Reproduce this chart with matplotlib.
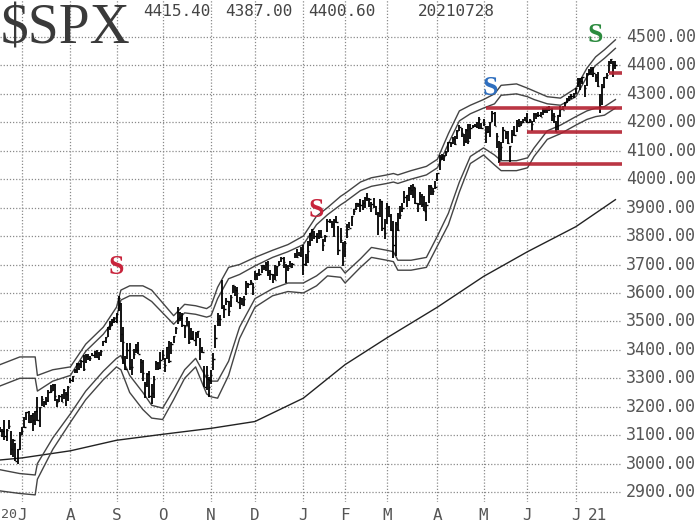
import numpy as np
import pandas as pd
import matplotlib
matplotlib.use("Agg")
import matplotlib.pyplot as plt

# ---------------- data ----------------
holidays = ["2020-07-03", "2020-09-07", "2020-11-26", "2020-12-25", "2021-01-01",
            "2021-01-18", "2021-02-15", "2021-04-02", "2021-05-31", "2021-07-05"]

highs = [3153,3130,3120,3155,3120,3154,3115,3086,3073,3053,3112,
         3128,3165,3183,3184,3171,3179,3186,3235,3200,3238,3220,3233,3259,3277,3280,3280,3228,3242,3243,3264,3250,3272,
         3302,3307,3331,3352,3352,3363,3381,3387,3387,3378,3388,3395,3399,3391,3399,3432,3444,3481,3501,3509,3514,
         3529,3588,3564,3479,3379,3424,3425,3368,3403,3420,3428,3369,3363,3286,3320,3324,3279,3307,3361,3357,3393,
         3398,3370,3409,3432,3427,3448,3482,3550,3534,3528,3489,3515,3502,3476,3465,3461,3466,3441,3409,3342,3342,3305,
         3330,3390,3486,3529,3522,3646,3557,3582,3570,3593,3628,3624,3620,3586,3582,3589,3643,3635,3644,3634,
         3678,3670,3683,3700,3697,3708,3713,3682,3665,3697,3695,3711,3725,3726,3702,3698,3712,3704,3740,3756,3744,3760,
         3770,3738,3783,3811,3826,3818,3811,3821,3823,3789,3804,3859,3861,3852,3859,3871,3836,3830,3778,
         3784,3843,3848,3872,3895,3916,3918,3932,3926,3937,3950,3933,3921,3935,3904,3883,3929,3925,3861,
         3915,3906,3879,3853,3851,3882,3904,3918,3960,3944,3971,3981,3984,3970,3918,3955,3949,3942,3919,3978,3981,3968,3994,
         4021,4084,4087,4084,4098,4130,4131,4148,4151,4174,4192,4180,4160,4175,4195,4194,4191,4193,4201,4219,4199,
         4210,4187,4187,4202,4238,4236,4164,4134,4131,4183,4169,4170,4117,4172,4188,4209,4213,4203,4213,4219,
         4234,4213,4204,4233,4232,4237,4237,4250,4249,4255,4257,4252,4232,4204,4226,4256,4256,4272,4287,4292,4300,4302,
         4321,4355,4356,4361,4331,4372,4386,4393,4394,4370,4376,4300,4336,4359,4372,4415,4422,4415,4415.4]

lows = [3076,3110,3093,3083,3079,3123,3032,3024,3008,2999,3047,
        3101,3124,3155,3142,3142,3116,3136,3149,3127,3201,3199,3205,3215,3248,3254,3221,3198,3215,3216,3228,3204,3220,
        3284,3287,3318,3317,3328,3335,3326,3355,3363,3361,3380,3370,3370,3366,3379,3413,3423,3444,3468,3485,3494,
        3494,3535,3427,3349,3329,3367,3329,3311,3369,3389,3384,3317,3292,3229,3271,3232,3210,3229,3328,3328,3332,
        3364,3323,3367,3354,3384,3425,3456,3492,3500,3480,3440,3483,3420,3435,3433,3415,3440,3364,3388,3268,3259,3234,
        3279,3328,3405,3485,3484,3544,3511,3557,3519,3552,3601,3589,3567,3544,3556,3553,3594,3617,3629,3594,
        3646,3645,3660,3670,3679,3678,3658,3646,3634,3645,3659,3696,3710,3688,3636,3676,3690,3689,3724,3723,3730,3726,
        3663,3695,3705,3765,3783,3789,3777,3791,3792,3749,3780,3816,3846,3830,3797,3847,3732,3777,3694,
        3725,3792,3827,3836,3874,3892,3902,3885,3891,3900,3923,3901,3885,3898,3875,3805,3866,3818,3790,
        3842,3867,3818,3723,3730,3819,3859,3885,3915,3903,3924,3944,3935,3914,3885,3910,3902,3889,3853,3917,3943,3945,3965,
        3992,4034,4068,4063,4083,4096,4114,4124,4120,4140,4171,4150,4118,4126,4123,4142,4181,4182,4181,4177,4175,
        4188,4128,4163,4148,4201,4188,4111,4057,4069,4126,4143,4125,4061,4127,4151,4167,4183,4188,4197,4203,
        4198,4198,4168,4200,4213,4219,4219,4225,4234,4234,4239,4203,4196,4165,4174,4217,4242,4255,4267,4275,4283,4287,
        4301,4323,4313,4336,4290,4329,4365,4368,4360,4340,4323,4233,4262,4320,4351,4375,4405,4360,4387]

closes = [3125,3113,3115,3098,3118,3131,3050,3084,3009,3053,3100,
          3116,3130,3180,3145,3170,3152,3185,3155,3198,3227,3216,3225,3252,3257,3276,3236,3216,3239,3218,3258,3246,3271,
          3295,3307,3328,3349,3351,3360,3334,3380,3373,3373,3382,3390,3375,3385,3397,3431,3444,3479,3485,3508,3500,
          3527,3581,3455,3427,3332,3399,3339,3341,3384,3401,3386,3357,3320,3281,3316,3237,3247,3298,3352,3336,3363,
          3381,3348,3409,3361,3419,3447,3477,3534,3512,3489,3483,3484,3427,3443,3436,3454,3465,3401,3391,3271,3310,3270,
          3310,3369,3443,3510,3509,3550,3545,3573,3537,3585,3627,3610,3568,3582,3558,3578,3635,3630,3638,3622,
          3662,3669,3667,3699,3692,3702,3673,3668,3663,3647,3695,3701,3722,3709,3695,3687,3690,3703,3735,3727,3732,3756,
          3701,3727,3748,3804,3825,3800,3801,3810,3795,3768,3799,3852,3853,3841,3855,3850,3751,3787,3714,
          3774,3826,3830,3872,3887,3916,3911,3910,3916,3935,3933,3931,3914,3907,3877,3881,3925,3829,3811,
          3902,3870,3820,3769,3842,3821,3875,3899,3939,3943,3969,3963,3974,3916,3913,3941,3911,3889,3910,3975,3971,3959,3973,
          4020,4078,4074,4080,4097,4129,4128,4142,4125,4170,4185,4163,4135,4173,4135,4180,4188,4187,4183,4211,4181,
          4193,4165,4168,4202,4233,4188,4152,4063,4113,4174,4163,4128,4116,4159,4156,4197,4188,4196,4201,4204,
          4202,4208,4193,4230,4227,4227,4220,4239,4247,4255,4247,4224,4222,4167,4225,4246,4242,4267,4281,4291,4292,4298,
          4320,4352,4344,4358,4321,4370,4385,4369,4374,4360,4327,4259,4323,4359,4368,4412,4422,4402,4400.6]

# bands at selected trading-day positions
band_idx = [0, 10, 17, 18, 25, 33, 40, 48, 54, 56, 60, 66, 70, 75, 80, 85, 90, 95, 97, 100,
            105, 110, 117, 125, 132, 139, 145, 150, 156, 158, 165, 170, 177, 180, 182, 188, 195, 200,
            205, 210, 215, 221, 226, 229, 236, 241, 244, 250, 256, 263, 268, 272, 276, 281]
upper_outer = [3345, 3375, 3375, 3310, 3330, 3340, 3420, 3480, 3550, 3610, 3625, 3625, 3610, 3565, 3520, 3560, 3555, 3545, 3555, 3620,
               3690, 3700, 3725, 3750, 3770, 3800, 3870, 3900, 3940, 3950, 3990, 4005, 4015, 4020, 4015, 4030, 4045, 4070,
               4160, 4240, 4260, 4280, 4300, 4330, 4335, 4320, 4310, 4290, 4285, 4320, 4390, 4430, 4455, 4490]
upper_inner = [3270, 3300, 3300, 3255, 3290, 3310, 3395, 3455, 3515, 3575, 3590, 3590, 3570, 3530, 3490, 3530, 3525, 3515, 3520, 3580,
               3650, 3665, 3695, 3725, 3745, 3770, 3840, 3875, 3910, 3920, 3960, 3975, 3985, 3990, 3985, 4000, 4015, 4040,
               4125, 4205, 4230, 4250, 4265, 4295, 4300, 4290, 4280, 4265, 4260, 4290, 4360, 4400, 4425, 4460]
lower_inner = [2980, 2965, 2960, 3000, 3090, 3175, 3255, 3325, 3370, 3380, 3310, 3250, 3205, 3195, 3260, 3330, 3370, 3300, 3290, 3290,
               3360, 3480, 3580, 3615, 3635, 3635, 3660, 3690, 3690, 3670, 3720, 3760, 3750, 3745, 3715, 3715, 3725, 3800,
               3880, 3990, 4080, 4110, 4085, 4065, 4065, 4075, 4110, 4170, 4190, 4220, 4240, 4250, 4255, 4280]
lower_outer = [2905, 2895, 2890, 2945, 3050, 3145, 3225, 3295, 3340, 3330, 3250, 3190, 3160, 3155, 3225, 3300, 3340, 3245, 3235, 3230,
               3310, 3440, 3550, 3590, 3605, 3600, 3625, 3660, 3655, 3635, 3690, 3725, 3715, 3710, 3680, 3680, 3690, 3765,
               3840, 3955, 4055, 4085, 4050, 4030, 4030, 4040, 4080, 4140, 4160, 4190, 4210, 4220, 4225, 4250]

ma_idx = [0, 11, 33, 54, 75, 97, 117, 139, 158, 177, 200, 221, 241, 263, 281]
ma_200 = [3012, 3020, 3045, 3082, 3103, 3124, 3148, 3230, 3348, 3442, 3550, 3658, 3745, 3833, 3928]

support_levels = [4250, 4165, 4055, 4375]
support_start = ["2021-05-04", "2021-06-01", "2021-05-12", "2021-07-23"]

sell_signals = [("2020-09-01", 3690, "#c8243c"), ("2021-01-12", 3890, "#c8243c"),
                ("2021-05-06", 4320, "#2f6fbf"), ("2021-07-15", 4505, "#2b8a3e")]

month_labels = ["J", "A", "S", "O", "N", "D", "J", "F", "M", "A", "M", "J", "J"]
header_values = ["4415.40", "4387.00", "4400.60", "20210728"]
y_ticks = list(range(2900, 4501, 100))

# ---------------- layout ----------------
dates = pd.bdate_range("2020-06-16", "2021-07-28")
dates = dates[~dates.isin(pd.to_datetime(holidays))]
n = len(highs)
dates = dates[:n]
idx = np.arange(n)

W, H = 700, 523
fig = plt.figure(figsize=(W / 100, H / 100), dpi=100)
ax = fig.add_axes([0, 1 - 502 / H, 622 / W, 502 / H])
ax.set_xlim(0.99, 284.0)
ax.set_ylim(2865, 4630)
for s in ax.spines.values():
    s.set_visible(False)
ax.set_xticks([])
ax.set_yticks([])

# grid
grid_kw = dict(color="#8a8a8a", lw=0.9, ls=(0, (1, 1.5)), zorder=0)
for yv in y_ticks:
    ax.axhline(yv, **grid_kw)
month_start = [i for i in range(n) if i == 0 or dates[i].month != dates[i - 1].month]
month_start = [i for i in month_start if dates[i].day <= 7][:len(month_labels)]
for i in month_start:
    ax.axvline(i, **grid_kw)

# 200-day MA
ax.plot(ma_idx, ma_200, color="#222222", lw=1.0, zorder=2)

# bands
for b in (upper_outer, upper_inner, lower_inner, lower_outer):
    ax.plot(band_idx, b, color="#444444", lw=1.0, zorder=2)

# price bars
ax.vlines(idx, lows, highs, color="black", lw=1.3, zorder=3)
ax.hlines(closes, idx, idx + 0.6, color="black", lw=1.0, zorder=3)

# support lines
end_x = 284.0
for lv, st in zip(support_levels, support_start):
    si = int(np.searchsorted(dates, pd.Timestamp(st)))
    ax.plot([si, end_x], [lv, lv], color="#b3202f", lw=2.6, alpha=0.9, zorder=4,
            solid_capstyle="butt")

# sell signals
for d, yv, c in sell_signals:
    si = int(np.searchsorted(dates, pd.Timestamp(d)))
    ax.text(si, yv, "S", color=c, fontsize=20, fontweight="bold",
            family="Liberation Serif", ha="center", va="center", zorder=5)

# right tick labels
mono = "DejaVu Sans Mono"
for yv in y_ticks:
    yfig = ax.transData.transform((0, yv))[1] / H
    fig.text(626 / W, yfig, f"{yv:.2f}", family=mono, fontsize=12, color="#555555",
             ha="left", va="center")

# month labels
for lab, i in zip(month_labels, month_start):
    xfig = ax.transData.transform((i, 0))[0] / W
    fig.text(xfig, 1 - 515 / H, lab, family=mono, fontsize=11.5, color="#555555",
             ha="center", va="center")
fig.text(0.5 / W, 1 - 515 / H, "20", family=mono, fontsize=9.5, color="#555555",
         ha="left", va="center")
xl = ax.transData.transform((month_start[-1], 0))[0] / W
fig.text(xl + 12 / W, 1 - 515 / H, "21", family=mono, fontsize=11.5, color="#555555",
         ha="left", va="center")

# title and header
fig.text(1 / W, 1 - 30 / H, "$SPX", family="Liberation Serif", fontsize=40,
         color="#3a3a3a", ha="left", va="center")
hx = [143, 225, 308, 418]
for xv, t in zip(hx, header_values):
    fig.text(xv / W, 1 - 11 / H, t, family=mono, fontsize=11.5, color="#444444",
             ha="left", va="center")

fig.savefig("out.png", dpi=100)
